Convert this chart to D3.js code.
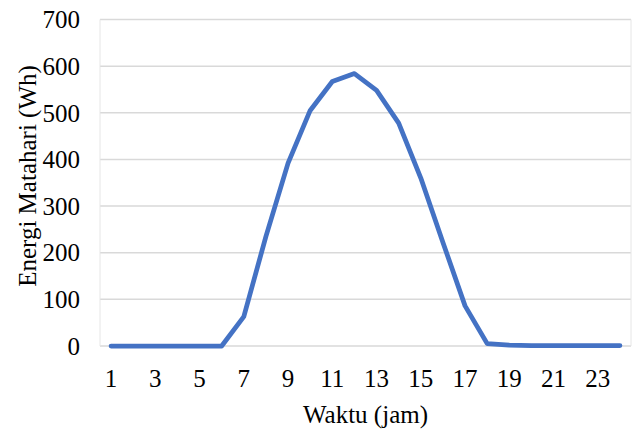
<!DOCTYPE html>
<html>
<head>
<meta charset="utf-8">
<script src="https://cdn.jsdelivr.net/npm/d3@7"></script>
<style>
  body { margin: 0; background: #fff; }
</style>
</head>
<body>
<svg id="chart" width="640" height="432"></svg>
<script>
const hours = d3.range(1, 25);
const energy = [0, 0, 0, 0, 0, 0, 63, 235, 392, 505, 567, 584, 548, 478, 360, 222, 86, 5, 2, 1, 1, 1, 1, 1];
const yTicks = [0, 100, 200, 300, 400, 500, 600, 700];
const xLabels = hours.filter(h => h % 2 === 1);

const FONT = 'Liberation Serif';

const svg = d3.select('#chart');
const margin = { top: 19.5, right: 9, bottom: 86, left: 100 };
const width = 640, height = 432;

const x = d3.scaleBand()
    .domain(hours)
    .range([margin.left, width - margin.right]);

const y = d3.scaleLinear()
    .domain([0, 700])
    .range([height - margin.bottom, margin.top]);

// gridlines
svg.append('g')
    .selectAll('line')
    .data(yTicks)
    .enter()
    .append('line')
    .attr('x1', margin.left)
    .attr('x2', width - margin.right)
    .attr('y1', d => y(d))
    .attr('y2', d => y(d))
    .attr('stroke', '#d9d9d9')
    .attr('stroke-width', 1.5);

// plot border sides
svg.append('line')
    .attr('x1', width - margin.right).attr('x2', width - margin.right)
    .attr('y1', y(700)).attr('y2', y(0))
    .attr('stroke', '#e6e6e6').attr('stroke-width', 1);
svg.append('line')
    .attr('x1', margin.left).attr('x2', margin.left)
    .attr('y1', y(700)).attr('y2', y(0))
    .attr('stroke', '#e6e6e6').attr('stroke-width', 1);

// y labels
svg.append('g')
    .selectAll('text')
    .data(yTicks)
    .enter()
    .append('text')
    .attr('x', 80)
    .attr('y', d => y(d))
    .attr('dy', '0.35em')
    .attr('text-anchor', 'end')
    .style('font-family', FONT)
    .style('font-size', '25px')
    .text(d => d);

// x labels
svg.append('g')
    .selectAll('text')
    .data(xLabels)
    .enter()
    .append('text')
    .attr('x', d => x(d) + x.bandwidth() / 2)
    .attr('y', 378)
    .attr('dy', '0.35em')
    .attr('text-anchor', 'middle')
    .style('font-family', FONT)
    .style('font-size', '25px')
    .text(d => d);

// line
const line = d3.line()
    .x((d, i) => x(hours[i]) + x.bandwidth() / 2)
    .y(d => y(d));

svg.append('path')
    .datum(energy)
    .attr('d', line)
    .attr('fill', 'none')
    .attr('stroke', '#4472c4')
    .attr('stroke-width', 4.75)
    .attr('stroke-linejoin', 'round')
    .attr('stroke-linecap', 'round');

// axis titles
svg.append('text')
    .attr('x', (margin.left + width - margin.right) / 2)
    .attr('y', 414)
    .attr('dy', '0.35em')
    .attr('text-anchor', 'middle')
    .style('font-family', FONT)
    .style('font-size', '25px')
    .text('Waktu (jam)');

svg.append('text')
    .attr('transform', 'translate(27,176) rotate(-90)')
    .attr('dy', '0.35em')
    .attr('text-anchor', 'middle')
    .style('font-family', FONT)
    .style('font-size', '25px')
    .text('Energi Matahari (Wh)');
</script>
</body>
</html>
